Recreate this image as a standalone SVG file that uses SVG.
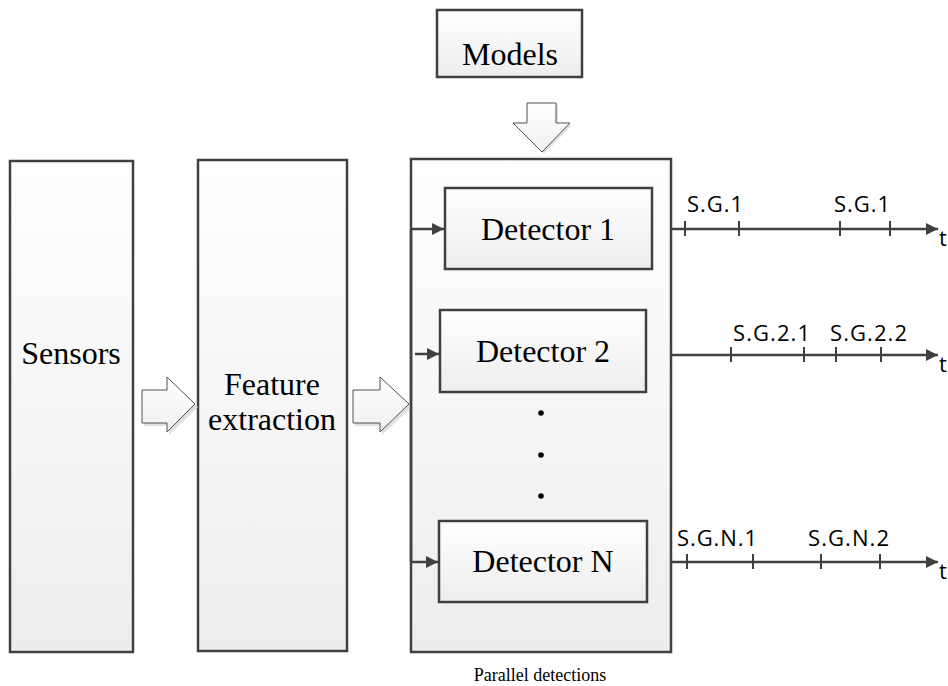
<svg xmlns="http://www.w3.org/2000/svg" width="948" height="686" viewBox="0 0 948 686">
  <defs>
    <linearGradient id="boxFill" x1="0" y1="0" x2="0" y2="1">
      <stop offset="0" stop-color="#ffffff"/>
      <stop offset="1" stop-color="#ededed"/>
    </linearGradient>
    <linearGradient id="arrowFill" x1="0" y1="0" x2="0" y2="1">
      <stop offset="0" stop-color="#ffffff"/>
      <stop offset="1" stop-color="#f0f0f0"/>
    </linearGradient>
    <marker id="head" viewBox="0 0 10 10" refX="10" refY="5" markerWidth="5" markerHeight="5" orient="auto" markerUnits="strokeWidth">
      <path d="M0,0 L10,5 L0,10 Z" fill="#404040"/>
    </marker>
  </defs>
  <style>
    .box { fill: url(#boxFill); stroke: #404040; stroke-width: 2.5; }
    .blk { fill: url(#arrowFill); stroke: #505050; stroke-width: 1; }
    .shadow { fill: #e0e0e0; stroke: none; }
    .serif { font-family: "Liberation Serif", "Times New Roman", serif; font-size: 32px; fill: #000; text-anchor: middle; }
    .small { font-family: "Liberation Serif", "Times New Roman", serif; font-size: 18px; fill: #000; text-anchor: middle; }
    .sg { font-family: "Open Sans", "Noto Sans", sans-serif; font-size: 22px; fill: #000; }
    .line { stroke: #404040; stroke-width: 2.5; fill: none; }
    .tick { stroke: #404040; stroke-width: 2; }
  </style>

  <rect width="948" height="686" fill="#ffffff"/>

  <!-- Sensors -->
  <g id="sensors">
    <rect class="box" x="10" y="161" width="123" height="491"/>
    <text class="serif" x="71" y="364">Sensors</text>
  </g>

  <!-- Feature extraction -->
  <g id="feature-extraction">
    <rect class="box" x="198" y="160" width="149" height="491"/>
    <text class="serif" x="272" y="395">Feature</text>
    <text class="serif" x="272" y="430">extraction</text>
  </g>

  <!-- Models -->
  <g id="models">
    <rect class="box" x="437" y="10" width="145" height="67"/>
    <text class="serif" x="510" y="65">Models</text>
  </g>

  <!-- Parallel detections container -->
  <g id="parallel">
    <rect class="box" x="411" y="159" width="260" height="493"/>
    <text class="small" x="540" y="681">Parallel detections</text>
  </g>

  <g id="detector-1">
    <rect class="box" x="445" y="188" width="207" height="81"/>
    <text class="serif" x="548" y="240">Detector 1</text>
  </g>

  <g id="detector-2">
    <rect class="box" x="440" y="310" width="206" height="82"/>
    <text class="serif" x="543" y="362">Detector 2</text>
  </g>

  <g id="ellipsis">
    <circle cx="541" cy="413" r="2.8" fill="#000"/>
    <circle cx="541" cy="455" r="2.8" fill="#000"/>
    <circle cx="541" cy="496" r="2.8" fill="#000"/>
  </g>

  <g id="detector-n">
    <rect class="box" x="439" y="521" width="208" height="81"/>
    <text class="serif" x="543" y="572">Detector N</text>
  </g>

  <!-- Connectors -->
  <g id="connectors">
    <!-- block arrows -->
    <path class="shadow" d="M144,393 L169,393 L169,380 L198,407 L169,435 L169,426 L144,426 Z"/>
    <path class="blk" d="M142,390 L167,390 L167,377 L195,404 L167,432 L167,423 L142,423 Z"/>
    <path class="shadow" d="M355,393 L382,393 L382,380 L412,407 L382,435 L382,426 L355,426 Z"/>
    <path class="blk" d="M353,390 L380,390 L380,377 L409,404 L380,432 L380,423 L353,423 Z"/>
    <path class="shadow" d="M529,105 L558,105 L558,125 L572,125 L544,154 L515,125 L529,125 Z"/>
    <path class="blk" d="M527,103 L556,103 L556,123 L570,123 L542,152 L513,123 L527,123 Z"/>

    <!-- bus into detectors -->
    <line class="line" x1="411" y1="229" x2="411" y2="562"/>
    <line class="line" x1="411" y1="229" x2="444" y2="229" marker-end="url(#head)"/>
    <line class="line" x1="415" y1="354" x2="439" y2="354" marker-end="url(#head)"/>
    <line class="line" x1="411" y1="562" x2="438" y2="562" marker-end="url(#head)"/>

    <!-- timeline for detector 1 -->
    <line class="line" x1="671" y1="229" x2="938" y2="229" marker-end="url(#head)"/>
    <line class="tick" x1="685" y1="221" x2="685" y2="236"/>
    <line class="tick" x1="739" y1="221" x2="739" y2="236"/>
    <line class="tick" x1="840" y1="221" x2="840" y2="236"/>
    <line class="tick" x1="890" y1="221" x2="890" y2="236"/>
    <text class="sg" x="687" y="212" textLength="56" lengthAdjust="spacing">S.G.1</text>
    <text class="sg" x="834" y="212" textLength="56" lengthAdjust="spacing">S.G.1</text>
    <text class="sg" x="939" y="246">t</text>

    <!-- timeline for detector 2 -->
    <line class="line" x1="671" y1="355" x2="938" y2="355" marker-end="url(#head)"/>
    <line class="tick" x1="731" y1="347" x2="731" y2="362"/>
    <line class="tick" x1="804" y1="347" x2="804" y2="362"/>
    <line class="tick" x1="836" y1="347" x2="836" y2="362"/>
    <line class="tick" x1="881" y1="347" x2="881" y2="362"/>
    <text class="sg" x="733" y="341" textLength="77" lengthAdjust="spacing">S.G.2.1</text>
    <text class="sg" x="830" y="341" textLength="77" lengthAdjust="spacing">S.G.2.2</text>
    <text class="sg" x="939" y="372">t</text>

    <!-- timeline for detector N -->
    <line class="line" x1="671" y1="562" x2="938" y2="562" marker-end="url(#head)"/>
    <line class="tick" x1="687" y1="554" x2="687" y2="569"/>
    <line class="tick" x1="753" y1="554" x2="753" y2="569"/>
    <line class="tick" x1="821" y1="554" x2="821" y2="569"/>
    <line class="tick" x1="880" y1="554" x2="880" y2="569"/>
    <text class="sg" x="677" y="546" textLength="80" lengthAdjust="spacing">S.G.N.1</text>
    <text class="sg" x="808" y="546" textLength="81" lengthAdjust="spacing">S.G.N.2</text>
    <text class="sg" x="939" y="579">t</text>
  </g>
</svg>
